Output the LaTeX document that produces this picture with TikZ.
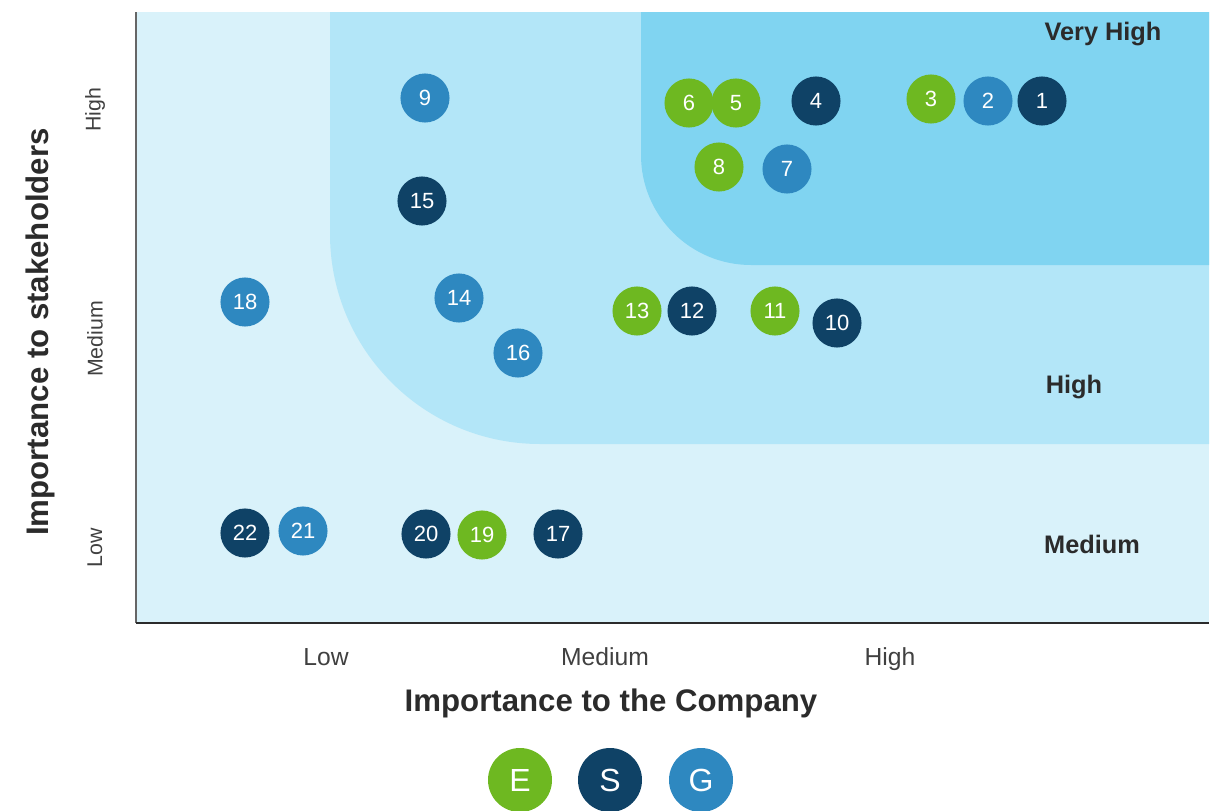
\documentclass[tikz,border=0pt]{standalone}
\usepackage{fontspec}
\setmainfont{Liberation Sans}
\definecolor{bgL}{HTML}{D9F2FA}
\definecolor{bgM}{HTML}{B3E6F8}
\definecolor{bgH}{HTML}{80D4F1}
\definecolor{cE}{HTML}{6EB821}
\definecolor{cS}{HTML}{0F4266}
\definecolor{cG}{HTML}{2E88C0}
\definecolor{txt}{HTML}{2B2B2B}
\tikzset{
  dot/.style={circle, inner sep=0pt, minimum size=36.8pt, text=white, font=\fontsize{16.5}{18}\selectfont},
  edot/.style={dot, fill=cE},
  sdot/.style={dot, fill=cS},
  gdot/.style={dot, fill=cG},
  leg/.style={circle, inner sep=0pt, minimum size=48pt, text=white, font=\fontsize{24}{26}\selectfont},
  zone/.style={text=txt, anchor=base, font=\fontsize{19}{21}\selectfont\bfseries},
  tickx/.style={text=txt!90, anchor=base, font=\fontsize{18.5}{20}\selectfont},
  ticky/.style={text=txt!90, font=\fontsize{16}{18}\selectfont, rotate=90},
  axtitle/.style={text=txt, font=\fontsize{23.4}{25}\selectfont\bfseries}
}
\begin{document}
\begin{tikzpicture}[x=0.75pt,y=-0.75pt]
\useasboundingbox (0,0) rectangle (1213,810);
% zones
\fill[bgL] (136,12) rectangle (1209,623);
\fill[bgM] (330,12) -- (330,234) .. controls (330,349.9) and (424.1,444) .. (540,444) -- (1209,444) -- (1209,12) -- cycle;
\fill[bgH] (641,12) -- (641,155) .. controls (641,215.7) and (690.3,265) .. (751,265) -- (1209,265) -- (1209,12) -- cycle;
% axes
\draw[line width=1.5pt, color=black!60] (136,12) -- (136,623);
\draw[line width=1.5pt, color=txt] (136,623) -- (1209,623);
% zone labels
\node[zone] (zVH) at (1103,40) {Very High};
\node[zone] (zH) at (1074,393) {High};
\node[zone] (zM) at (1092,553) {Medium};
% ticks
\node[tickx] (xLow) at (326,665) {Low};
\node[tickx] (xMed) at (605,665) {Medium};
\node[tickx] (xHigh) at (890,665) {High};
\node[ticky] (yHigh) at (95,110) {High};
\node[ticky] (yMed) at (95,339) {Medium};
\node[ticky] (yLow) at (95,548) {Low};
% axis titles
\node[axtitle] (xTitle) at (611,703) {Importance to the Company};
\node[axtitle, rotate=90] (yTitle) at (40,332) {Importance to stakeholders};
% issues
\node[sdot] (n1) at (1042,101) {1};
\node[gdot] (n2) at (988,101) {2};
\node[edot] (n3) at (931,99) {3};
\node[sdot] (n4) at (816,101) {4};
\node[edot] (n5) at (736,103) {5};
\node[edot] (n6) at (689,103) {6};
\node[gdot] (n7) at (787,169) {7};
\node[edot] (n8) at (719,167) {8};
\node[gdot] (n9) at (425,98) {9};
\node[sdot] (n15) at (422,201) {15};
\node[gdot] (n14) at (459,298) {14};
\node[gdot] (n18) at (245,302) {18};
\node[edot] (n13) at (637,311) {13};
\node[sdot] (n12) at (692,311) {12};
\node[edot] (n11) at (775,311) {11};
\node[sdot] (n10) at (837,323) {10};
\node[gdot] (n16) at (518,353) {16};
\node[sdot] (n22) at (245,533) {22};
\node[gdot] (n21) at (303,531) {21};
\node[sdot] (n20) at (426,534) {20};
\node[edot] (n19) at (482,535) {19};
\node[sdot] (n17) at (558,534) {17};
% legend
\node[leg, fill=cE] (lE) at (520,780) {E};
\node[leg, fill=cS] (lS) at (610,780) {S};
\node[leg, fill=cG] (lG) at (701,780) {G};
\end{tikzpicture}
\end{document}
